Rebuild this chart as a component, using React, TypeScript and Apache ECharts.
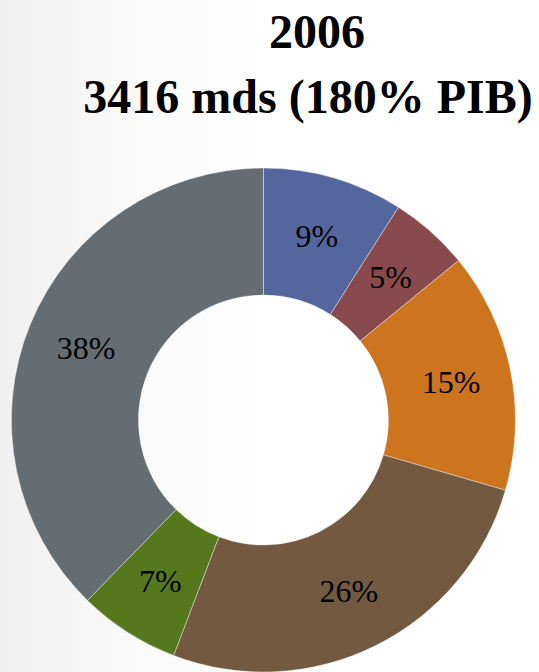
import React, { useEffect, useRef } from "react";
import * as echarts from "echarts";

const titleLines = ["2006", "3416 mds (180% PIB)"];
const shares = [9.0, 5.1, 15.4, 26.3, 6.5, 37.7];
const sliceNames = ["A", "B", "C", "D", "E", "F"];
const sliceColors = ["#53679E", "#884A4C", "#CC741E", "#735940", "#55781C", "#656D72"];

export default function App() {
  const ref = useRef<HTMLDivElement>(null);
  useEffect(() => {
    document.body.style.margin = "0";
    const chart = echarts.init(ref.current!, null, { renderer: "svg" });
    const serif = "'Liberation Serif', 'DejaVu Serif', serif";
    chart.setOption({
      animation: false,
      backgroundColor: {
        type: "linear",
        x: 0, y: 0, x2: 1, y2: 0,
        colorStops: [
          { offset: 0, color: "#f0f0f0" },
          { offset: 0.3, color: "#fbfbfb" },
          { offset: 0.5, color: "#ffffff" },
          { offset: 1, color: "#ffffff" },
        ],
      },
      graphic: [
        {
          type: "text",
          x: 317,
          y: 31,
          style: {
            text: titleLines[0],
            font: `bold 48px ${serif}`,
            fill: "#000",
            textAlign: "center",
            textVerticalAlign: "middle",
          },
        },
        {
          type: "text",
          x: 308,
          y: 96,
          style: {
            text: titleLines[1],
            font: `bold 48px ${serif}`,
            fill: "#000",
            textAlign: "center",
            textVerticalAlign: "middle",
          },
        },
      ],
      series: [
        {
          type: "pie",
          center: [263.4, 420],
          radius: [125, 252],
          startAngle: 90,
          clockwise: true,
          avoidLabelOverlap: false,
          itemStyle: { borderColor: "rgba(255,255,255,0.5)", borderWidth: 0.8 },
          label: {
            show: true,
            position: "inside",
            color: "#000",
            fontFamily: serif,
            fontSize: 32,
            formatter: (p: any) => `${Math.round(p.value)}%`,
          },
          labelLine: { show: false },
          emphasis: { disabled: true },
          data: shares.map((v, i) => ({
            value: v,
            name: sliceNames[i],
            itemStyle: { color: sliceColors[i] },
          })),
        },
      ],
    });
    return () => chart.dispose();
  }, []);
  return (
    <div
      ref={ref}
      style={{ width: 539, height: 672, position: "fixed", left: 0, top: 0 }}
    />
  );
}
